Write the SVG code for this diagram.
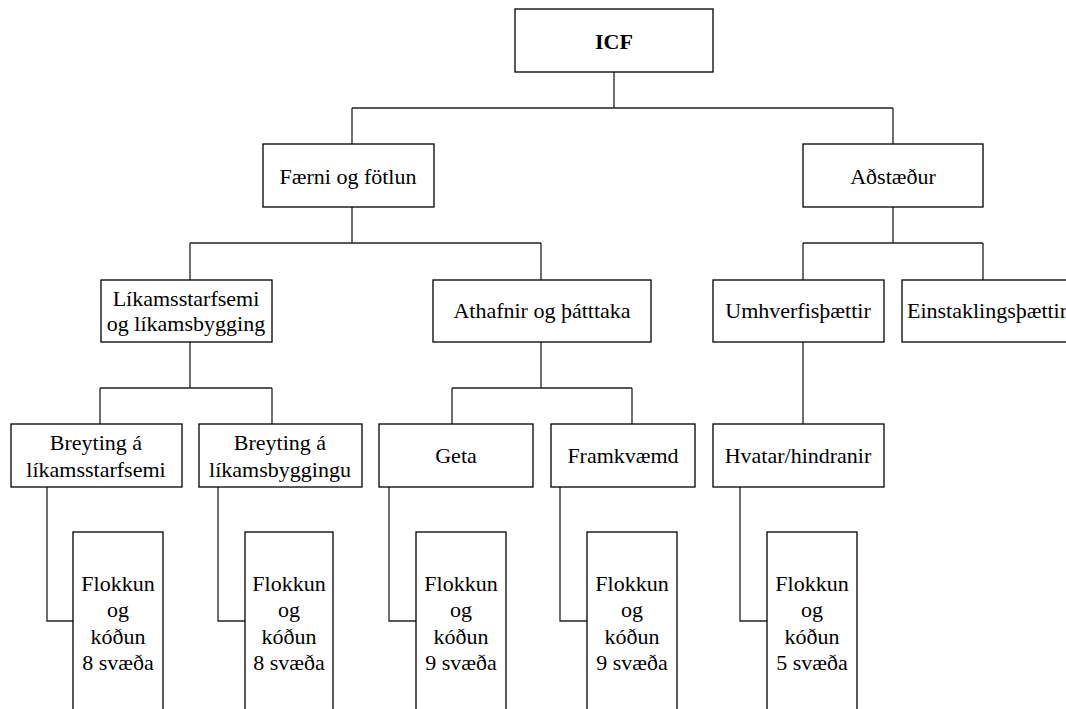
<svg xmlns="http://www.w3.org/2000/svg" width="1066" height="709" viewBox="0 0 1066 709">
<style>
rect{fill:#fff;stroke:#000;stroke-width:1.3}
text{font-family:'Liberation Serif','Times New Roman',serif;font-size:22px;fill:#000;text-anchor:middle}
.b{font-weight:bold}
#connectors path{fill:none;stroke:#222;stroke-width:1.3}
</style>
<rect x="0" y="0" width="1066" height="709" style="stroke:none"/>
<g id="connectors">
<path d="M614 72V108M352 108H893M352 108V144M893 108V144"/>
<path d="M352 207V243M190 243H541M190 243V280M541 243V280"/>
<path d="M893 207V243M803 243H983M803 243V280M983 243V280"/>
<path d="M190 342V388M100 388H272M100 388V424M272 388V424"/>
<path d="M541 342V388M452 388H632M452 388V424M632 388V424"/>
<path d="M803 342V424"/>
<path d="M47 487V621H73"/>
<path d="M218 487V621H245"/>
<path d="M389 487V621H416"/>
<path d="M560 487V621H587"/>
<path d="M740 487V621H767"/>
</g>
<g id="icf"><rect x="515" y="9" width="198" height="63"/><text class="b" x="614" y="49">ICF</text></g>
<g id="faerni"><rect x="263" y="144" width="171" height="63"/><text x="348" y="184">Færni og fötlun</text></g>
<g id="adstaedur"><rect x="803" y="144" width="180" height="63"/><text x="893" y="184">Aðstæður</text></g>
<g id="likams"><rect x="101" y="280" width="171" height="62"/><text x="186" y="306">Líkamsstarfsemi</text><text x="186" y="331">og líkamsbygging</text></g>
<g id="athafnir"><rect x="433" y="280" width="218" height="62"/><text x="542" y="318">Athafnir og þátttaka</text></g>
<g id="umhverfis"><rect x="713" y="280" width="171" height="62"/><text x="798" y="318">Umhverfisþættir</text></g>
<g id="einstaklings"><rect x="902" y="280" width="171" height="62"/><text x="987" y="318">Einstaklingsþættir</text></g>
<g id="breyting1"><rect x="11" y="424" width="171" height="63"/><text x="96" y="450">Breyting á</text><text x="96" y="477">líkamsstarfsemi</text></g>
<g id="breyting2"><rect x="199" y="424" width="163" height="63"/><text x="280" y="450">Breyting á</text><text x="280" y="477">líkamsbyggingu</text></g>
<g id="geta"><rect x="379" y="424" width="154" height="63"/><text x="456" y="463">Geta</text></g>
<g id="framkvaemd"><rect x="551" y="424" width="144" height="63"/><text x="623" y="463">Framkvæmd</text></g>
<g id="hvatar"><rect x="713" y="424" width="171" height="63"/><text x="798" y="463">Hvatar/hindranir</text></g>
<g id="flokkun1"><rect x="73" y="532" width="90" height="200"/><text x="118" y="591">Flokkun</text><text x="118" y="617">og</text><text x="118" y="644">kóðun</text><text x="118" y="670">8 svæða</text></g>
<g id="flokkun2"><rect x="245" y="532" width="88" height="200"/><text x="289" y="591">Flokkun</text><text x="289" y="617">og</text><text x="289" y="644">kóðun</text><text x="289" y="670">8 svæða</text></g>
<g id="flokkun3"><rect x="416" y="532" width="90" height="200"/><text x="461" y="591">Flokkun</text><text x="461" y="617">og</text><text x="461" y="644">kóðun</text><text x="461" y="670">9 svæða</text></g>
<g id="flokkun4"><rect x="587" y="532" width="90" height="200"/><text x="632" y="591">Flokkun</text><text x="632" y="617">og</text><text x="632" y="644">kóðun</text><text x="632" y="670">9 svæða</text></g>
<g id="flokkun5"><rect x="767" y="532" width="90" height="200"/><text x="812" y="591">Flokkun</text><text x="812" y="617">og</text><text x="812" y="644">kóðun</text><text x="812" y="670">5 svæða</text></g>
</svg>
